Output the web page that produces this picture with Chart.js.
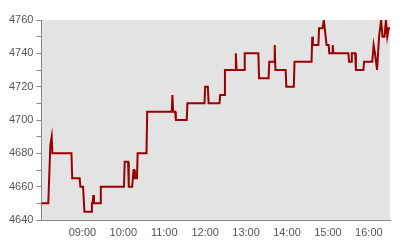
<!DOCTYPE html>
<html>
<head>
<meta charset="utf-8">
<script src="https://cdn.jsdelivr.net/npm/chart.js@4"></script>
<style>
  body { margin: 0; background: #fff; }
</style>
</head>
<body>
<canvas id="priceChart" width="400" height="240"></canvas>
<script>
// Intraday price (step-like moves), times as HH:MM
const times = [
  '08:00','08:10','08:13','08:15','08:16','08:44','08:45','08:56','08:57','09:01',
  '09:03','09:13','09:14','09:15','09:16','09:17','09:26','09:27','10:01','10:02',
  '10:07','10:08','10:13','10:15','10:16','10:17','10:20','10:21','10:34','10:35',
  '11:11','11:12','11:13','11:16','11:17','11:33','11:34','11:59','12:00','12:04',
  '12:05','12:21','12:22','12:28','12:29','12:44','12:45','12:46','12:57','12:58',
  '13:18','13:19','13:33','13:34','13:41','13:42','13:43','13:58','13:59','14:10',
  '14:11','14:36','14:37','14:38','14:46','14:47','14:52','14:54','14:58','15:01',
  '15:02','15:06','15:07','15:08','15:30','15:31','15:34','15:35','15:40','15:41',
  '15:52','15:53','16:05','16:07','16:09','16:12','16:15','16:18','16:20','16:23',
  '16:25','16:27','16:29','16:31'
];
const prices = [
  4650,4650,4685,4690,4680,4680,4665,4665,4660,4660,
  4645,4645,4650,4650,4655,4650,4650,4660,4660,4675,
  4675,4660,4660,4670,4670,4665,4665,4680,4680,4705,
  4705,4715,4705,4705,4700,4700,4710,4710,4720,4720,
  4710,4710,4715,4715,4730,4730,4740,4730,4730,4740,
  4740,4725,4725,4735,4735,4745,4730,4730,4720,4720,
  4735,4735,4750,4745,4745,4755,4755,4760,4745,4745,
  4740,4740,4745,4740,4740,4735,4735,4740,4740,4730,
  4730,4735,4735,4745,4740,4730,4750,4760,4750,4750,
  4760,4750,4755,4755
];
const xTickLabels = ['09:00','10:00','11:00','12:00','13:00','14:00','15:00','16:00'];

function toMinutes(hhmm) {
  const [h, m] = hhmm.split(':').map(Number);
  return h * 60 + m;
}
function toLabel(min) {
  const h = Math.floor(min / 60), m = min % 60;
  return String(h).padStart(2, '0') + ':' + String(m).padStart(2, '0');
}

const points = times.map((t, i) => ({ x: toMinutes(t), y: prices[i] }));

// grey plot background
const plotBackground = {
  id: 'plotBackground',
  beforeDraw(chart) {
    const { ctx, chartArea } = chart;
    ctx.save();
    ctx.fillStyle = '#e3e3e3';
    ctx.fillRect(chartArea.left, chartArea.top, chartArea.width, chartArea.height);
    ctx.restore();
  }
};

const ctx = document.getElementById('priceChart').getContext('2d');
new Chart(ctx, {
  type: 'line',
  data: {
    datasets: [{
      data: points,
      borderColor: '#990000',
      borderWidth: 2,
      pointRadius: 0,
      tension: 0,
      fill: false
    }]
  },
  options: {
    responsive: false,
    animation: false,
    layout: { padding: { top: 20, right: 10, left: 6, bottom: 0 } },
    plugins: { legend: { display: false }, tooltip: { enabled: false } },
    scales: {
      x: {
        type: 'linear',
        min: toMinutes(times[0]),
        max: toMinutes(times[times.length - 1]),
        afterBuildTicks: axis => {
          axis.ticks = xTickLabels.map(l => ({ value: toMinutes(l) }));
        },
        afterFit: axis => { axis.height = 20; },
        grid: { display: false, drawTicks: false },
        border: { display: true, color: '#888', width: 1 },
        ticks: {
          color: '#555',
          font: { family: 'Liberation Sans, Arial, sans-serif', size: 11 },
          padding: 6,
          maxRotation: 0,
          autoSkip: false,
          callback: v => toLabel(v)
        }
      },
      y: {
        min: 4640,
        max: 4760,
        grid: { drawOnChartArea: false, drawTicks: true, tickLength: 5, color: '#888' },
        border: { display: true, color: '#888', width: 1 },
        ticks: {
          stepSize: 10,
          color: '#555',
          font: { family: 'Liberation Sans, Arial, sans-serif', size: 11 },
          padding: 3,
          callback: v => (v % 20 === 0 ? v : '')
        }
      }
    }
  },
  plugins: [plotBackground]
});
</script>
</body>
</html>
